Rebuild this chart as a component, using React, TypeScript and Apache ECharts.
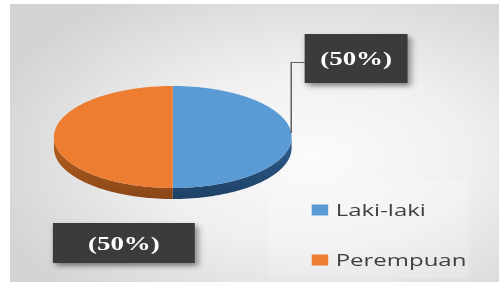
import React, { useEffect, useRef } from "react";
import * as echarts from "echarts";

// ---- data ----
const categories = ["Laki-laki", "Perempuan"];
const values = [50, 50];

// ---- styles / layout ----
const topColors = ["#5b9bd5", "#ed7d31"];
const sideColors = [
  ["#2f5f8e", "#1e4166"],
  ["#b8611f", "#8a4617"],
];
const W = 333;
const H = 290;
const PIE = { cx: 115.3, cy: 137, rx: 79.3, ry: 51, depth: 11 };
const LABEL_BOXES = [
  { x: 203.3, y: 34, w: 68.7, h: 49, leader: true },
  { x: 35.3, y: 223, w: 94.7, h: 40, leader: false },
];

function ellipsePt(t: number, dy = 0): number[] {
  return [PIE.cx + PIE.rx * Math.cos(t), PIE.cy + PIE.ry * Math.sin(t) + dy];
}

function arcPts(a0: number, a1: number, dy = 0): number[][] {
  const pts: number[][] = [];
  const n = Math.max(2, Math.ceil(((a1 - a0) * 180) / Math.PI));
  for (let k = 0; k <= n; k++) pts.push(ellipsePt(a0 + ((a1 - a0) * k) / n, dy));
  return pts;
}

function makeRenderItem(i: number) {
  return (params: any, api: any) => {
    const total = values.reduce((s, v) => s + v, 0);
    const before = values.slice(0, i).reduce((s, v) => s + v, 0);
    const v = api.value(0);
    const a0 = -Math.PI / 2 + (2 * Math.PI * before) / total;
    const a1 = a0 + (2 * Math.PI * v) / total;
    const children: any[] = [];

    // visible side (front, where sin>0)
    const ranges = [
      [0, Math.PI],
      [2 * Math.PI, 3 * Math.PI],
    ];
    for (const [r0, r1] of ranges) {
      const s = Math.max(a0, r0);
      const e = Math.min(a1, r1);
      if (e > s) {
        const upper = arcPts(s, e, 0);
        const lower = arcPts(s, e, PIE.depth).reverse();
        children.push({
          type: "polygon",
          z2: 1,
          shape: { points: upper.concat(lower) },
          style: {
            fill: new echarts.graphic.LinearGradient(0, 0, 0, 1, [
              { offset: 0, color: sideColors[i][0] },
              { offset: 1, color: sideColors[i][1] },
            ]),
          },
        });
      }
    }

    // top face
    children.push({
      type: "polygon",
      z2: 5,
      shape: { points: [[PIE.cx, PIE.cy]].concat(arcPts(a0, a1, 0)) },
      style: { fill: topColors[i] },
    });

    // label
    const box = LABEL_BOXES[i];
    if (box) {
      if (box.leader) {
        const p = ellipsePt(-0.08);
        const ly = box.y + box.h / 2 + 4;
        children.push({
          type: "polyline",
          z2: 8,
          shape: { points: [p, [p[0], ly], [box.x, ly]] },
          style: { stroke: "#606060", lineWidth: 1, fill: "none" },
        });
      }
      children.push({
        type: "rect",
        z2: 9,
        shape: { x: box.x, y: box.y, width: box.w, height: box.h },
        style: {
          fill: "#3a3a3a",
          shadowBlur: 5,
          shadowOffsetX: 2,
          shadowOffsetY: 3,
          shadowColor: "rgba(0,0,0,0.45)",
        },
      });
      children.push({
        type: "text",
        z2: 10,
        x: box.x + box.w / 2,
        y: box.y + box.h / 2 + 1,
        style: {
          text: "(" + Math.round((v / total) * 100) + "%)",
          fill: "#ffffff",
          font: "bold 18px 'Liberation Serif', 'Times New Roman', serif",
          align: "center",
          verticalAlign: "middle",
        },
      });
    }
    return { type: "group", children };
  };
}

export default function App() {
  const ref = useRef<HTMLDivElement>(null);
  useEffect(() => {
    if (!ref.current) return;
    const chart = echarts.init(ref.current, null, { renderer: "svg" });
    chart.setOption({
      animation: false,
      backgroundColor: "#ffffff",
      graphic: [
        {
          type: "rect",
          z: -10,
          shape: { x: 6.7, y: 4, width: W - 6.7, height: 278 },
          style: {
            fill: new echarts.graphic.RadialGradient(0.62, 0.55, 0.7, [
              { offset: 0, color: "#fbfbfb" },
              { offset: 0.45, color: "#f0f0f0" },
              { offset: 1, color: "#d3d3d3" },
            ]),
          },
        },
        {
          type: "rect",
          z: -9,
          shape: { x: 179, y: 180, width: 134, height: 98 },
          style: { fill: "rgba(255,255,255,0.18)" },
        },
      ],
      legend: {
        orient: "vertical",
        left: 203,
        top: 197,
        itemWidth: 11,
        itemHeight: 11,
        itemGap: 34,
        icon: "rect",
        selectedMode: false,
        data: categories,
        textStyle: {
          fontFamily: "'Open Sans', sans-serif",
          fontSize: 16,
          lineHeight: 16,
          color: "#404040",
        },
      },
      series: categories.map((name, i) => ({
        type: "custom",
        name,
        coordinateSystem: "none",
        z: 2,
        itemStyle: { color: topColors[i] },
        data: [[values[i]]],
        renderItem: makeRenderItem(i),
      })),
    });
    return () => chart.dispose();
  }, []);
  return (
    <div
      ref={ref}
      style={{
        position: "fixed",
        left: 0,
        top: 0,
        width: W,
        height: H,
        transform: `scaleX(${499 / W})`,
        transformOrigin: "0 0",
      }}
    />
  );
}
